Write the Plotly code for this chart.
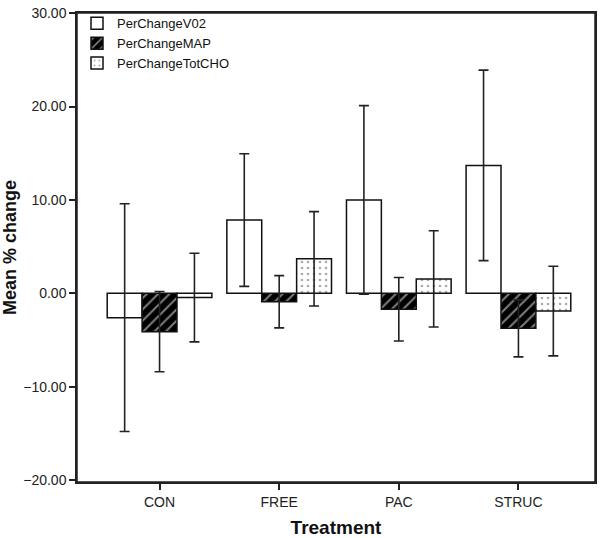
import plotly.graph_objects as go

categories = ["CON", "FREE", "PAC", "STRUC"]
series_names = ["PerChangeV02", "PerChangeMAP", "PerChangeTotCHO"]
v02_mean = [-2.6, 7.85, 10.0, 13.7]
v02_err = [12.2, 7.1, 10.1, 10.2]
map_mean = [-4.1, -0.9, -1.7, -3.75]
map_err = [4.3, 2.8, 3.4, 3.05]
cho_mean = [-0.45, 3.7, 1.55, -1.9]
cho_err = [4.75, 5.05, 5.15, 4.8]

font_family = "Liberation Sans, Arial, sans-serif"

err_style = dict(type="data", visible=True, color="#222222", thickness=1.6, width=5)

fig = go.Figure()
fig.add_trace(go.Bar(
    x=categories, y=v02_mean, name=series_names[0],
    marker=dict(color="white", line=dict(color="#111111", width=1.5)),
    error_y=dict(array=v02_err, **err_style),
))
fig.add_trace(go.Bar(
    x=categories, y=map_mean, name=series_names[1],
    marker=dict(color="black", line=dict(color="#111111", width=1.5),
                pattern=dict(shape="/", bgcolor="black", fgcolor="white",
                             size=8, solidity=0.25)),
    error_y=dict(array=map_err, **err_style),
))
fig.add_trace(go.Bar(
    x=categories, y=cho_mean, name=series_names[2],
    marker=dict(color="white", line=dict(color="#111111", width=1.5),
                pattern=dict(shape=".", bgcolor="white", fgcolor="#555555",
                             size=6, solidity=0.15)),
    error_y=dict(array=cho_err, **err_style),
))

fig.update_layout(
    width=603, height=538,
    margin=dict(l=77, r=8, t=8, b=56),
    paper_bgcolor="white", plot_bgcolor="white",
    barmode="group", bargap=0.125, bargroupgap=0,
    font=dict(family=font_family, color="#111111", size=13),
    showlegend=True,
    legend=dict(x=0.0, y=1.01, xanchor="left", yanchor="top",
                bgcolor="rgba(255,255,255,0)", borderwidth=0,
                font=dict(size=13, family=font_family, color="#111111"),
                tracegroupgap=0, itemwidth=30),
    xaxis=dict(
        range=[-0.69, 3.64], showline=True, linecolor="#222222", linewidth=1.5,
        mirror=True, ticks="outside", ticklen=6, tickcolor="#222222", tickwidth=1.5,
        showgrid=False, zeroline=False, automargin=False,
        tickfont=dict(size=14, family=font_family, color="#222222"),
        title=dict(text="<b>Treatment</b>", standoff=14,
                   font=dict(size=19, family=font_family, color="#111111")),
    ),
    yaxis=dict(
        range=[-20.2, 30.02], showline=True, linecolor="#222222", linewidth=1.5,
        mirror=True, ticks="outside", ticklen=6, tickcolor="#222222", tickwidth=1.5,
        showgrid=False, zeroline=False, dtick=10, tick0=0, tickformat=".2f",
        automargin=False, ticklabeloverflow="allow",
        tickfont=dict(size=14, family=font_family, color="#222222"),
        title=dict(text="<b>Mean % change</b>", standoff=14,
                   font=dict(size=18, family=font_family, color="#111111")),
    ),
    shapes=[dict(type="rect", xref="paper", yref="paper", x0=0, x1=1, y0=0, y1=1,
                 line=dict(color="#222222", width=1.5), layer="above")],
)

fig.write_html("out.html", config={"displayModeBar": False},
               post_script="document.body.style.margin='0';"
                           "document.documentElement.style.overflow='hidden';")
